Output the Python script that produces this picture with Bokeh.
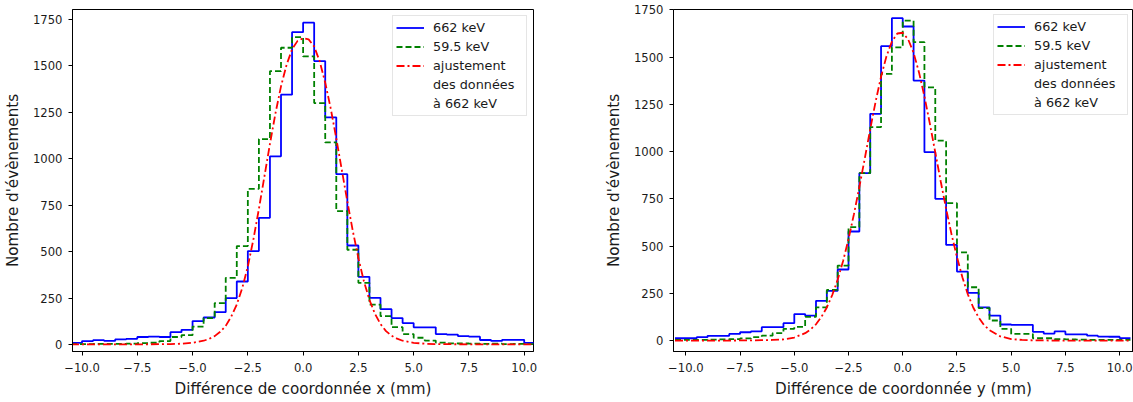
from bokeh.plotting import figure
from bokeh.layouts import row
from bokeh.models import Range1d, FixedTicker, CustomJSTickFormatter, Legend, LegendItem
from bokeh.embed import file_html
from bokeh.resources import INLINE

# ---------------- data ----------------
bin_edges = [-10.5 + 0.5 * i for i in range(43)]

# x-coordinate difference histograms (counts per 0.5 mm bin, from -10.5 to 10.5)
x_counts_662 = [8, 18, 23, 19, 27, 30, 40, 42, 40, 66, 79, 126, 145, 174, 250, 339, 503, 682,
                1013, 1345, 1682, 1733, 1526, 1223, 917, 533, 364, 251, 190, 142, 115, 92, 92,
                56, 53, 45, 42, 24, 19, 25, 25, 8]
x_counts_595 = [2, 2, 3, 3, 3, 4, 7, 9, 18, 40, 50, 96, 142, 223, 359, 530, 838, 1106,
                1472, 1598, 1655, 1551, 1300, 1088, 718, 510, 332, 215, 152, 93, 56, 36, 21,
                10, 6, 5, 4, 3, 4, 2, 3, 2]

# y-coordinate difference histograms
y_counts_662 = [12, 12, 18, 25, 25, 35, 44, 49, 71, 71, 92, 140, 132, 210, 263, 376, 577, 886,
                1200, 1558, 1706, 1662, 1376, 997, 750, 506, 365, 252, 176, 132, 85, 83, 83,
                46, 37, 48, 33, 33, 26, 21, 20, 13]
y_counts_595 = [3, 4, 4, 5, 6, 8, 11, 18, 26, 39, 62, 72, 125, 176, 268, 397, 600, 886,
                1129, 1411, 1552, 1693, 1579, 1340, 1058, 727, 467, 282, 172, 106, 62, 35, 35,
                12, 12, 8, 6, 5, 4, 4, 3, 3]

# fitted curves of the 662 keV data
x_fit_pos = [-10.5, -8, -7, -6, -5.5, -5, -4.5, -4.25, -4, -3.75, -3.5, -3.25, -3, -2.75, -2.5,
             -2.25, -2, -1.75, -1.5, -1.25, -1, -0.75, -0.5, -0.25, 0, 0.25, 0.5, 0.75, 1,
             1.25, 1.5, 1.75, 2, 2.25, 2.5, 2.75, 3, 3.25, 3.5, 3.75, 4, 4.25, 4.5, 5, 5.5, 6,
             7, 8, 10.5]
x_fit_val = [0, 0, 1, 2, 4, 9, 20, 30, 45, 68, 100, 150, 215, 305, 420,
             565, 730, 905, 1080, 1245, 1390, 1505, 1590, 1635, 1649, 1643, 1605, 1525, 1410,
             1270, 1110, 940, 770, 610, 465, 340, 240, 165, 110, 72, 47, 31, 20, 9, 4, 2,
             1, 0, 0]

y_fit_pos = [-10.5, -8, -7, -6.5, -6, -5.5, -5, -4.5, -4.25, -4, -3.75, -3.5, -3.25, -3, -2.75,
             -2.5, -2.25, -2, -1.75, -1.5, -1.25, -1, -0.75, -0.5, -0.25, 0, 0.25, 0.5, 0.75,
             1, 1.25, 1.5, 1.75, 2, 2.25, 2.5, 2.75, 3, 3.25, 3.5, 3.75, 4, 4.5, 5, 5.5, 6, 7,
             10.5]
y_fit_val = [0, 0, 1, 2, 3, 6, 16, 39, 59, 86, 125, 175, 241, 322, 421,
             537, 669, 813, 964, 1118, 1265, 1396, 1505, 1582, 1625, 1629, 1594, 1523, 1419,
             1292, 1148, 996, 843, 697, 562, 442, 335, 245, 175, 122, 82, 55, 22, 8, 3, 1, 0,
             0]

x_ticks = [-10, -7.5, -5, -2.5, 0, 2.5, 5, 7.5, 10]
y_ticks = [0, 250, 500, 750, 1000, 1250, 1500, 1750]

labels = ["662 keV", "59.5 keV", "ajustement", "des données", "à 662 keV"]

FONT = "DejaVu Sans"
TXT = "#1a1a1a"


def make_panel(c662, c595, fx, fy, xlabel, xr, yr, width, mbl, mbr, lmargin):
    p = figure(width=width, height=400, output_backend="svg", toolbar_location=None,
               x_range=Range1d(*xr), y_range=Range1d(*yr),
               min_border_left=mbl, min_border_right=mbr, min_border_top=9,
               min_border_bottom=49)
    p.grid.visible = False
    p.outline_line_color = "black"
    p.outline_line_width = 1
    p.background_fill_color = "white"

    r1 = p.step(bin_edges, c662 + [c662[-1]], mode="after", line_color="#0000ff",
                line_width=1.8)
    r2 = p.step(bin_edges, c595 + [c595[-1]], mode="after", line_color="#008000",
                line_width=1.8, line_dash="6 3")
    r3 = p.line(fx, fy, line_color="#ff0000", line_width=1.8, line_dash="8 3 2 3")
    r4 = p.line([], [], line_alpha=0)
    r5 = p.line([], [], line_alpha=0)

    p.xaxis.ticker = FixedTicker(ticks=x_ticks)
    p.xaxis.formatter = CustomJSTickFormatter(
        code="return (tick < 0 ? '\u2212' : '') + Math.abs(tick).toFixed(1);")
    p.yaxis.ticker = FixedTicker(ticks=y_ticks)
    for ax in (p.xaxis[0], p.yaxis[0]):
        ax.minor_tick_line_color = None
        ax.major_tick_out = 4
        ax.major_tick_in = 0
        ax.axis_line_color = "black"
        ax.major_tick_line_color = "black"
        ax.major_label_text_font = FONT
        ax.major_label_text_font_size = "11.6px"
        ax.major_label_text_color = TXT
        ax.axis_label_text_font = FONT
        ax.axis_label_text_font_size = "15.2px"
        ax.axis_label_text_font_style = "normal"
        ax.axis_label_text_color = TXT
    p.xaxis.major_label_standoff = 7
    p.xaxis.axis_label_standoff = 5
    p.yaxis.major_label_standoff = 6
    p.yaxis.axis_label_standoff = 8
    p.xaxis.axis_label = xlabel
    p.yaxis.axis_label = "Nombre d'évènements"

    items = [LegendItem(label=labels[i], renderers=[r]) for i, r in
             enumerate([r1, r2, r3, r4, r5])]
    leg = Legend(items=items, location="top_right", margin=lmargin, padding=3, spacing=2,
                 label_height=17, glyph_height=17, glyph_width=28, label_standoff=9,
                 label_width=90, label_text_font=FONT, label_text_font_size="12.8px",
                 label_text_color=TXT, border_line_color="#cccccc",
                 background_fill_color="white", background_fill_alpha=0.9)
    p.add_layout(leg)
    return p


p1 = make_panel(x_counts_662, x_counts_595, x_fit_pos, x_fit_val,
                "Différence de coordonnée x (mm)", (-10.43, 10.42), (-38, 1804),
                600, 72, 67, 6)
p2 = make_panel(y_counts_662, y_counts_595, y_fit_pos, y_fit_val,
                "Différence de coordonnée y (mm)", (-10.57, 10.64), (-58, 1752),
                533, 73, 0, 5)

layout = row(p1, p2)
open("out.html", "w").write(file_html(layout, INLINE))
